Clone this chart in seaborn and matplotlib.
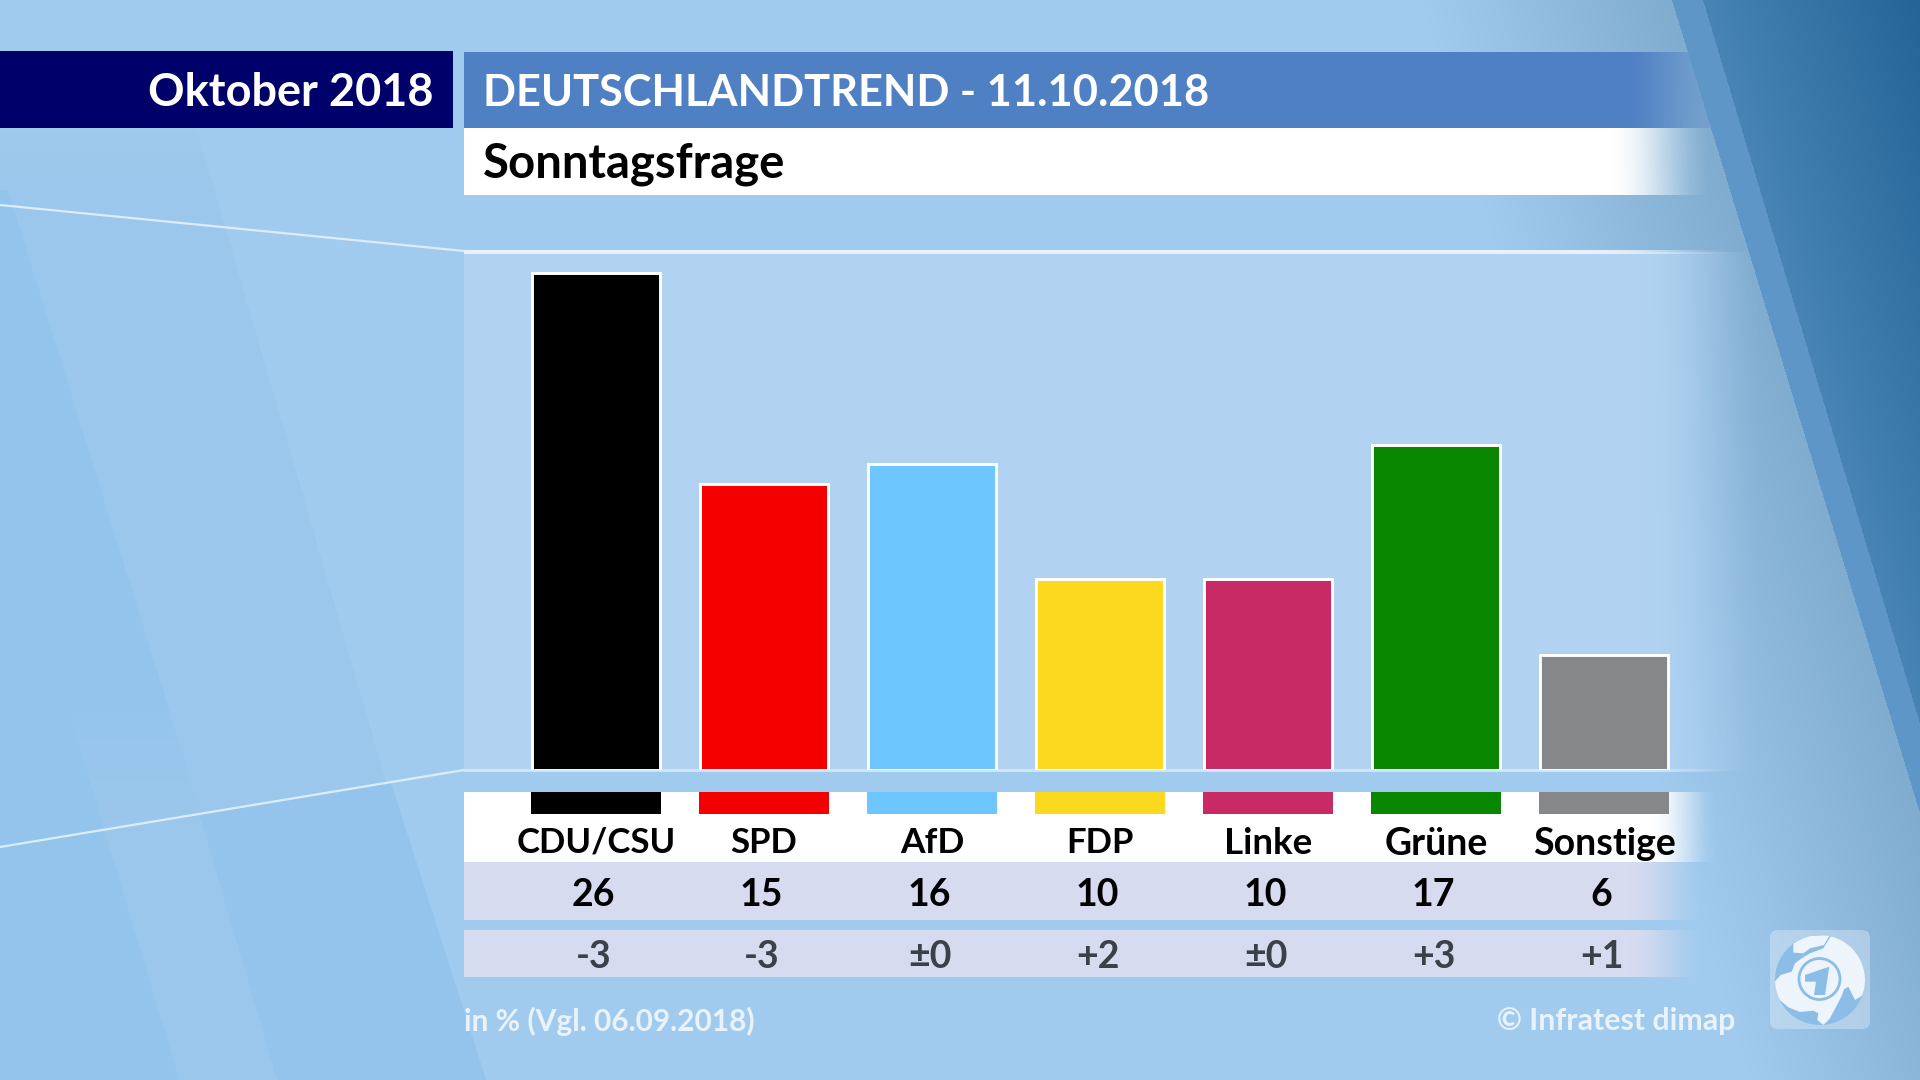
import numpy as np
import pandas as pd
import matplotlib
matplotlib.use("Agg")
import matplotlib.pyplot as plt
from matplotlib.patches import Rectangle, FancyBboxPatch, Circle, Polygon
import seaborn as sns

parties = ["CDU/CSU", "SPD", "AfD", "FDP", "Linke", "Grüne", "Sonstige"]
values = [26, 15, 16, 10, 10, 17, 6]
deltas = ["-3", "-3", "±0", "+2", "±0", "+3", "+1"]
colors = ["#000000", "#f40000", "#6ec6ff", "#fbd91e", "#c72a64", "#0a8700", "#858789"]
title_left = "Oktober 2018"
title_main = "DEUTSCHLANDTREND - 11.10.2018"
subtitle = "Sonntagsfrage"
note_left = "in % (Vgl. 06.09.2018)"
note_right = "© Infratest dimap"

W, H = 1920, 1080
sns.set_theme(style="white")
FONT = "Lato"
plt.rcParams["font.family"] = [FONT, "DejaVu Sans"]
fig = plt.figure(figsize=(19.2, 10.8), dpi=100)

# ---- background (pixel coordinates, y downwards)
bg = fig.add_axes([0, 0, 1, 1], zorder=0)
bg.set_xlim(0, W); bg.set_ylim(H, 0); bg.axis("off")
X, Y = np.meshgrid(np.arange(W) + .5, np.arange(H) + .5)
img = np.ones((H, W, 3)) * np.array([161, 203, 238], float)


def tint(mask, color):
    global img
    a = mask.astype(float)[..., None] if mask.dtype == bool else mask[..., None]
    img = img * (1 - a) + np.array(color, float) * a


tint((X < 200 + .29 * (Y - 140)) * np.clip((Y - 100) / 100, 0, 1), (155, 199, 236))
tint((X < 13 + .31 * (Y - 206)) * np.clip((820 - Y) / 160, 0, 1) * (Y > 190), (147, 196, 235))
tint((X < 70 + .30 * (Y - 715)) * 1.0, (147, 196, 235))
tint((X > 200 + .293 * (Y - 817)) & (X < 387 + .32 * (Y - 770)) & (Y > 847 - .166 * X), (148, 196, 235))
edge1 = 1672 + .305 * Y
edge2 = 1703 + .30 * Y
t = np.clip((X - (edge1 - 250)) / 250, 0, 1)[..., None]
img = img * (1 - t) + np.array([128, 172, 208.]) * t
img[X >= edge1] = (95, 150, 200)
m = X >= edge2
s = np.clip((X - edge2) / 215, 0, 1)[..., None]
dark = np.array([72, 132, 182.]) * (1 - s) + np.array([36, 100, 150.]) * s
img[m] = dark[m]
bg.imshow(img / 255, extent=(0, W, H, 0), aspect="auto", interpolation="nearest", zorder=0)


def band(y0, y1, x0, x1, color, f0, f1, end=0.0, z=1):
    rgba = np.zeros((H, W, 4))
    rgba[..., :3] = np.array(matplotlib.colors.to_rgb(color))
    u = np.clip((X - f0) / (f1 - f0), 0, 1)
    a = 1 - (u * u * (3 - 2 * u)) * (1 - end)
    a = a * ((X >= x0) & (X <= x1) & (Y >= y0) & (Y < y1) & (X < edge1))
    rgba[..., 3] = a
    bg.imshow(rgba, extent=(0, W, H, 0), aspect="auto", interpolation="bilinear", zorder=z)


band(51, 128, 0, 453, "#00006b", 2000, 2001)
band(52, 128, 464, 1800, "#5080c4", 1625, 1715, end=.25)
band(128, 195, 464, 1800, "#ffffff", 1610, 1715)
band(252, 771, 464, 1800, "#b1d3f1", 1640, 1770)
band(250, 254, 464, 1800, "#e6f1fb", 1600, 1740)
band(769, 772, 464, 1800, "#cfe5f8", 1640, 1740)
band(792, 862, 464, 1800, "#ffffff", 1650, 1720)
band(862, 920, 464, 1800, "#d6dbf0", 1630, 1705)
band(930, 977, 464, 1800, "#d6dbf0", 1630, 1705)
bg.plot([0, 464], [205, 251], color="#dcecfa", lw=1.6, zorder=2)
bg.plot([0, 464], [847, 770], color="#dcecfa", lw=1.6, zorder=2)
bg.set_xlim(0, W); bg.set_ylim(H, 0)

# ---- logo
bg.add_patch(FancyBboxPatch((1770, 930), 100, 99, boxstyle="round,pad=0,rounding_size=8",
                            mutation_aspect=1, fc="white", ec="none", lw=0, alpha=.3, zorder=3))
LOGO_BLUE = "#8cbde6"
LAND = "#edf4fb"


def z(pts):
    return [(1760 + a / 3, 920 + b / 3) for a, b in pts]


globe = Circle((1820, 980), 45, fc=LOGO_BLUE, ec="none", zorder=4)
bg.add_patch(globe)
land = [(40, 190), (62, 165), (95, 155), (105, 130), (125, 115), (150, 100), (190, 85), (215, 45), (255, 50),
        (305, 110), (325, 190), (305, 228), (285, 240), (265, 200), (252, 208), (245, 228), (222, 272),
        (208, 298), (190, 315), (172, 300), (175, 280), (160, 272), (120, 276), (85, 262), (50, 232)]
europe = [(100, 70), (140, 48), (210, 45), (192, 75), (150, 85), (130, 100), (100, 98)]
for pts in (land, europe):
    p = Polygon(z(pts), fc=LAND, ec="none", zorder=5)
    bg.add_patch(p)
    p.set_clip_path(globe)
bg.add_patch(Circle((1819.5, 979), 20.5, fc=LAND, ec=LOGO_BLUE, lw=2, zorder=6))
bg.add_patch(Polygon(z([(135, 165), (208, 140), (195, 225), (162, 225), (168, 185), (135, 185)]),
                     fc=LOGO_BLUE, ec="none", zorder=7))

# ---- header and footer text
bg.text(433, 92.5, title_left, color="white", fontsize=32.5, fontweight="bold", ha="right", va="center", zorder=8)
bg.text(483, 92.5, title_main, color="white", fontsize=31.2, fontweight="bold", ha="left", va="center", zorder=8)
bg.text(483, 163.5, subtitle, color="black", fontsize=34, fontweight="bold", ha="left", va="center", zorder=8)
bg.text(464, 1021, note_left, color="#eaf3fb", fontsize=21.5, fontweight="bold", ha="left", va="center", zorder=8)
bg.text(1735, 1021, note_right, color="#eaf3fb", fontsize=21.8, fontweight="bold", ha="right", va="center", zorder=8)

# ---- bar chart axes
ax = fig.add_axes([464 / W, (H - 770) / H, (1730 - 464) / W, 518 / H], zorder=2)
ax.patch.set_alpha(0)
df = pd.DataFrame({"party": parties, "value": values})
sns.barplot(data=df, x="party", y="value", hue="party", palette=dict(zip(parties, colors)),
            legend=False, dodge=False, width=.76, saturation=1, edgecolor="white", linewidth=2.1, ax=ax)
ax.set_xlim(-132 / 168, (1730 - 596) / 168)
ax.set_ylim(0, 518 / 19.1)
ax.set_xlabel(""); ax.set_ylabel(""); ax.set_yticks([])
sns.despine(ax=ax, left=True, bottom=True)
ax.tick_params(axis="x", length=0, pad=41, labelsize=27, labelcolor="black")
label_sizes = [25, 25, 25.5, 25, 26.5, 27, 27]
for lab, size in zip(ax.get_xticklabels(), label_sizes):
    lab.set_fontweight("bold")
    lab.set_fontsize(size)

trans = ax.get_xaxis_transform()
ay = lambda py: (770 - py) / 518
for i, (c, v, d) in enumerate(zip(colors, values, deltas)):
    ax.add_patch(Rectangle((i - 65 / 168, ay(814)), 130 / 168, ay(792) - ay(814), transform=trans,
                           fc=c, ec="none", clip_on=False))
    ax.text(i - 2.5 / 168, ay(894.5), str(v), transform=trans, ha="center", va="center",
            fontsize=27, fontweight="bold", color="black", clip_on=False)
    ax.text(i - 2.5 / 168, ay(957.5), d, transform=trans, ha="center", va="center",
            fontsize=27, fontweight="bold", color="#3c4049", clip_on=False)

fig.savefig("out.png", dpi=100)
